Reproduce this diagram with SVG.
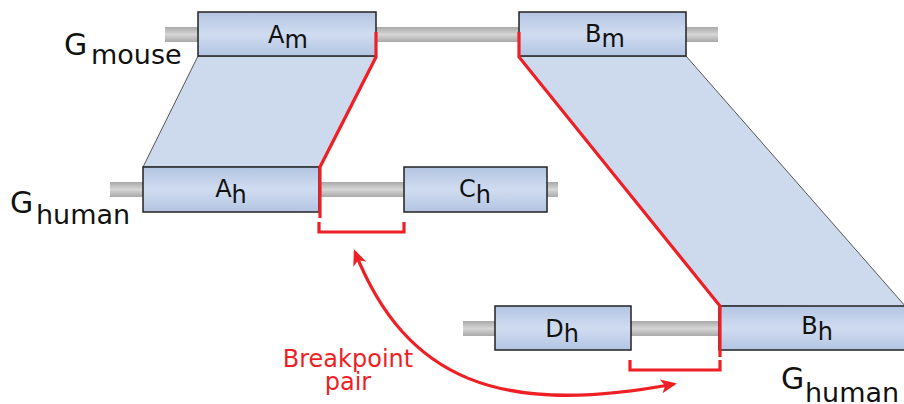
<svg xmlns="http://www.w3.org/2000/svg" width="904" height="404" viewBox="0 0 904 404">
<defs>
<linearGradient id="bar" x1="0" y1="0" x2="0" y2="1">
<stop offset="0" stop-color="#a9a9a9"/>
<stop offset="0.5" stop-color="#d6d6d6"/>
<stop offset="1" stop-color="#a9a9a9"/>
</linearGradient>
<linearGradient id="box" x1="0" y1="0" x2="0" y2="1">
<stop offset="0" stop-color="#b3c5e3"/>
<stop offset="0.5" stop-color="#d0dcf0"/>
<stop offset="1" stop-color="#b3c5e3"/>
</linearGradient>
<marker id="ah" markerUnits="userSpaceOnUse" viewBox="0 0 16 14" refX="13" refY="7" markerWidth="16" markerHeight="14" orient="auto-start-reverse">
<path d="M0,0 L16,7 L0,14 L4,7 Z" fill="#ee1f25"/>
</marker>
<style>
.bar{fill:url(#bar)}
.box{fill:url(#box);stroke:#222;stroke-width:1.5}
.syn{fill:#cddaee;stroke:#555;stroke-width:1}
.red{fill:none;stroke:#ee1f25;stroke-width:3.2;stroke-linejoin:miter}
.lbl{font-family:"DejaVu Sans",sans-serif;fill:#111}
.big{font-size:30px}
.sub{font-size:27px}
.bl{font-size:24px}
.rt{font-family:"DejaVu Sans",sans-serif;font-size:24px;fill:#ee1f25;text-anchor:middle}
</style>
</defs>

<g id="chromosomes">
<rect class="bar" x="165" y="27" width="553" height="15"/>
<rect class="bar" x="110" y="182" width="448" height="15"/>
<rect class="bar" x="463" y="321" width="445" height="15"/>
</g>

<g id="synteny">
<polygon class="syn" points="198,56 376,56 320,167 143,167"/>
<polygon class="syn" points="519,56 686,56 906,307 719,306"/>
</g>

<g id="node-Am">
<rect class="box" x="198" y="12" width="178" height="44"/>
<text class="lbl bl" x="288" y="43" text-anchor="middle">A<tspan dy="5">m</tspan></text>
</g>
<g id="node-Bm">
<rect class="box" x="519" y="12" width="167" height="44"/>
<text class="lbl bl" x="605" y="42" text-anchor="middle">B<tspan dy="5">m</tspan></text>
</g>
<g id="node-Ah">
<rect class="box" x="143" y="167" width="176" height="45"/>
<text class="lbl bl" x="231" y="197" text-anchor="middle">A<tspan dy="6">h</tspan></text>
</g>
<g id="node-Ch">
<rect class="box" x="404" y="167" width="143" height="45"/>
<text class="lbl bl" x="475" y="197" text-anchor="middle">C<tspan dy="6">h</tspan></text>
</g>
<g id="node-Dh">
<rect class="box" x="495" y="306" width="136" height="44"/>
<text class="lbl bl" x="562" y="337" text-anchor="middle">D<tspan dy="5">h</tspan></text>
</g>
<g id="node-Bh">
<rect class="box" x="719" y="306" width="200" height="44"/>
<text class="lbl bl" x="817" y="334" text-anchor="middle">B<tspan dy="6">h</tspan></text>
</g>

<g id="genome-labels">
<text class="lbl big" x="64" y="55">G</text><text class="lbl sub" x="91" y="64">mouse</text>
<text class="lbl big" x="10" y="213">G</text><text class="lbl sub" x="36" y="224">human</text>
<text class="lbl big" x="781" y="389">G</text><text class="lbl sub" x="805" y="402">human</text>
</g>

<g id="connectors">
<polyline class="red" points="376,32 376,57 320,167 320,218"/>
<polyline class="red" points="519,32 519,57 720,306 720,357"/>
<polyline class="red" points="319,222 319,232 404,232 404,222"/>
<polyline class="red" points="630,360 630,370 720,370 720,360"/>
<path class="red" d="M355,252 C406,380 500,417 674,384" marker-start="url(#ah)" marker-end="url(#ah)"/>
</g>

<g id="breakpoint-label">
<text class="rt" x="348" y="367">Breakpoint</text>
<text class="rt" x="348" y="390">pair</text>
</g>
</svg>
